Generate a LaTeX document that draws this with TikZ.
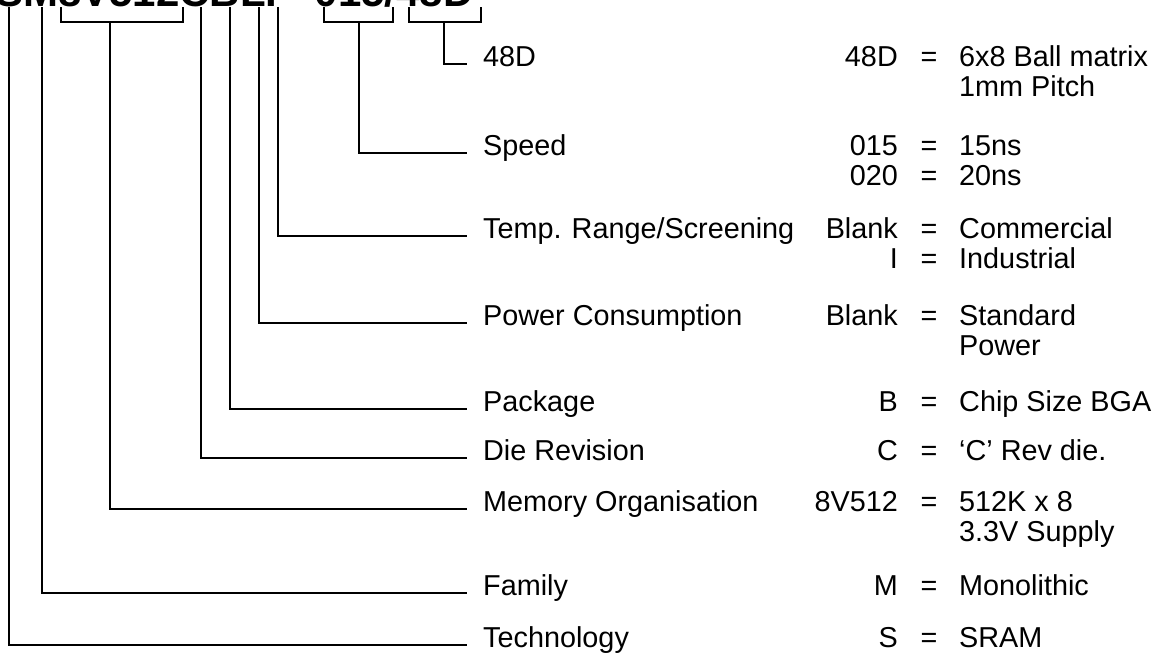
\documentclass[tikz,border=0pt]{standalone}
\usepackage{fontspec}
\setmainfont{Liberation Sans}
\begin{document}
\begin{tikzpicture}[x=1pt,y=-1pt]
\tikzset{
  txt/.style={inner sep=0pt, font=\fontsize{28.8}{30}\selectfont},
  lbl/.style={txt, anchor=mid west},
  code/.style={txt, anchor=mid east},
  eqs/.style={txt, anchor=mid},
  desc/.style={txt, anchor=mid west},
  conn/.style={line width=1.9pt, line join=miter},
}
\useasboundingbox (0,0) rectangle (1165,662);
\clip (0,0) rectangle (1165,662);
% truncated header
\node[anchor=base west, inner sep=0pt, font=\fontsize{42}{42}\selectfont\bfseries] (hdr) at (-5,6) {SM8V512CBLI - 015/48D};

% label column
\node[lbl] (l48) at (483,64) {48D};
\node[lbl] (lspd) at (483,153) {Speed};
\node[lbl] (ltmp) at (483,236) {Temp.\hspace{0.35em}Range/Screening};
\node[lbl] (lpwr) at (483,323) {Power Consumption};
\node[lbl] (lpkg) at (483,409) {Package};
\node[lbl] (ldie) at (483,458) {Die Revision};
\node[lbl] (lmem) at (483,509) {Memory Organisation};
\node[lbl] (lfam) at (483,593) {Family};
\node[lbl] (ltec) at (483,645) {Technology};

% code column
\foreach \n/\y/\c in {c1/64/48D, c2/153/015, c3/183/020, c4/236/Blank, c5/266/I, c6/323/Blank, c7/409/B, c8/458/C, c9/509/8V512, c10/593/M, c11/645/S}{
  \node[code] (\n) at (898,\y) {\c};
  \node[eqs] (e\n) at (929,\y) {=};
}
\node[desc] (d1) at (959,64) {6x8 Ball matrix};
\node[desc] (d1b) at (959,94) {1mm Pitch};
\node[desc] (d2) at (959,153) {15ns};
\node[desc] (d3) at (959,183) {20ns};
\node[desc] (d4) at (959,236) {Commercial};
\node[desc] (d5) at (959,266) {Industrial};
\node[desc] (d6) at (959,323) {Standard};
\node[desc] (d6b) at (959,353) {Power};
\node[desc] (d7) at (959,409) {Chip Size BGA};
\node[desc] (d8) at (959,458) {`C' Rev die.};
\node[desc] (d9) at (959,509) {512K x 8};
\node[desc] (d9b) at (959,539) {3.3V Supply};
\node[desc] (d10) at (959,593) {Monolithic};
\node[desc] (d11) at (959,645) {SRAM};

% tops of connectors
\coordinate (tS) at (9,7);
\coordinate (tM) at (42,7);
\coordinate (tOrg) at (110,22);
\coordinate (tC) at (201,7);
\coordinate (tB) at (230,7);
\coordinate (tL) at (259,7);
\coordinate (tI) at (278,7);
\coordinate (tSpd) at (359,22);
\coordinate (tPk) at (444,22);

% brackets
\draw[conn] (61,7) -- (61,22) -- (183,22) -- (183,7);
\draw[conn] (324,7) -- (324,22) -- (393,22) -- (393,7);
\draw[conn] (409,7) -- (409,22) -- (481,22) -- (481,7);

% connectors
\draw[conn] (tPk) |- ([xshift=-16pt]l48.mid west);
\draw[conn] (tSpd) |- ([xshift=-16pt]lspd.mid west);
\draw[conn] (tI) |- ([xshift=-16pt]ltmp.mid west);
\draw[conn] (tL) |- ([xshift=-16pt]lpwr.mid west);
\draw[conn] (tB) |- ([xshift=-16pt]lpkg.mid west);
\draw[conn] (tC) |- ([xshift=-16pt]ldie.mid west);
\draw[conn] (tOrg) |- ([xshift=-16pt]lmem.mid west);
\draw[conn] (tM) |- ([xshift=-16pt]lfam.mid west);
\draw[conn] (tS) |- ([xshift=-16pt]ltec.mid west);
\end{tikzpicture}
\end{document}
